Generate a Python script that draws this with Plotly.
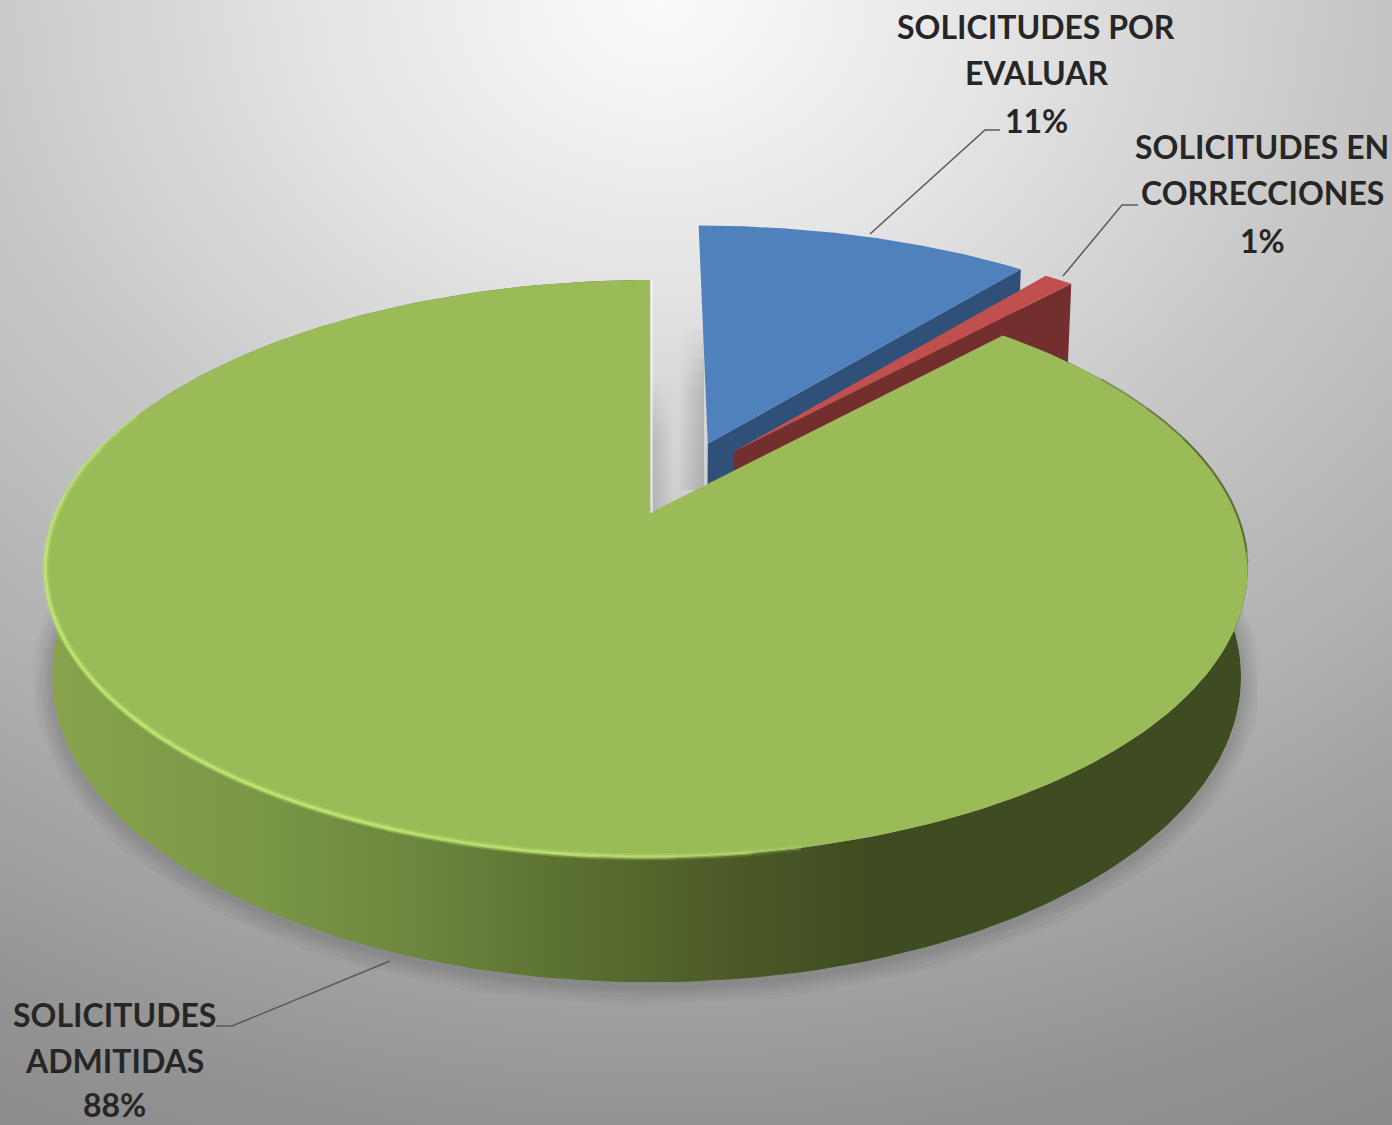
import numpy as np
import plotly.graph_objects as go

# slices in drawing order, clockwise from 12 o'clock
labels = [["SOLICITUDES POR", "EVALUAR"], ["SOLICITUDES EN", "CORRECCIONES"], ["SOLICITUDES", "ADMITIDAS"]]
values = [11, 1, 88]

top_colors = ["#4f81bd", "#c0504d", "#9bbb59"]
side_colors = ["#2f5079", "#722f2d", None]
explode = [(0.103, 0.262), (0.148, 0.23), (0.0, 0.0)]
radius = [1.03, 1.03, 1.0]

label_x = [1036, 1262, 114]
label_y = [[26, 72, 120], [146, 192, 240], [1014, 1060, 1104]]
leaders = [
    ([870, 985, 1000], [234, 130, 130]),
    ([1063, 1122, 1138], [276, 205, 205]),
    ([390, 232, 216], [961, 1026, 1026]),
]

# perspective of the pie plane, fitted to the picture
CX, CY, R, LEAN = 650, 513, 590, 3.5
PERSP, TILT = 0.1924, -179.1
DEPTH, DEPTH_W = 112, 0.011


def project(u, v, low=False):
    w = 1 + PERSP * v + (DEPTH_W if low else 0)
    y = TILT * v + CY + (DEPTH if low else 0)
    return CX + (R * u - LEAN * np.square(u)) / w, y / w


def arc(a0, a1, off=(0, 0), r=1.0, low=False, n=240):
    t = np.radians(np.linspace(a0, a1, n))
    return project(off[0] + r * np.sin(t), off[1] + r * np.cos(t), low)


def poly(xs, ys, **kw):
    return go.Scatter(x=xs, y=ys, mode="lines", fill="toself", line=dict(width=0),
                      hoverinfo="skip", showlegend=False, **kw)


def line(xs, ys, color, width):
    return go.Scatter(x=xs, y=ys, mode="lines", line=dict(color=color, width=width),
                      hoverinfo="skip", showlegend=False)


fig = go.Figure()

# background
fig.add_trace(poly([-930, 2250, 2250, -930, -930], [-1300, -1300, 1300, 1300, -1300],
                   fillgradient=dict(type="radial", colorscale=[
                       [0, "#fbfbfb"], [0.2, "#e6e6e6"], [0.43, "#c8c8c8"],
                       [0.63, "#b2b2b2"], [0.87, "#939393"], [1, "#888888"]])))

edges = np.cumsum([0] + values) * 3.6

# shadows in the gap beside the exploded wedge, stacked so the top fades out
for step in range(5):
    x0, x1 = 678, 704
    y0, y1 = 330 + step * 14, 490
    fig.add_trace(poly([x0, x1, x1, x0, x0], [y0, y0, y1, y1, y0],
                       fillgradient=dict(type="horizontal", start=x0, stop=x1, colorscale=[
                           [0, "rgba(0,0,0,0)"], [1, "rgba(0,0,0,0.035)"]])))
    x0, x1 = 652, 674
    y0, y1 = 385 + step * 12, 512
    fig.add_trace(poly([x0, x1, x1, x0, x0], [y0, y0, y1, y1, y0],
                       fillgradient=dict(type="horizontal", start=x0, stop=x1, colorscale=[
                           [0, "rgba(0,0,0,0.028)"], [1, "rgba(0,0,0,0)"]])))

# exploded slices
for i in [0, 1]:
    a0, a1 = edges[i], edges[i + 1]
    ax, ay = project(*explode[i])
    lx, ly = project(*explode[i], low=True)
    ex, ey = arc(a1, a1, explode[i], radius[i], n=1)
    fx, fy = arc(a1, a1, explode[i], radius[i], low=True, n=1)
    fig.add_trace(poly([ax, ex[0], fx[0], lx, ax], [ay, ey[0], fy[0], ly, ay], fillcolor=side_colors[i]))
    xs, ys = arc(a0, a1, explode[i], radius[i])
    fig.add_trace(poly(np.r_[ax, xs, ax], np.r_[ay, ys, ay], fillcolor=top_colors[i]))

# soft shadow under the big slice
sx, sy = arc(288, 72, low=True)
for width in [40, 32, 25, 18, 12, 7]:
    fig.add_trace(line(sx, sy + 3, "rgba(30,30,30,0.032)", width))

# big slice: outer wall then top face
a0, a1 = edges[2], edges[3]
tx, ty = arc(a0, a1)
bx, by = arc(a0, a1, low=True)
fig.add_trace(poly(np.r_[tx, bx[::-1], tx[0]], np.r_[ty, by[::-1], ty[0]],
                   fillgradient=dict(type="horizontal", start=50, stop=870, colorscale=[
                       [0, "#88a34b"], [0.25, "#7b9747"], [0.45, "#6c863e"], [0.62, "#5c7231"],
                       [0.8, "#4e5d29"], [1, "#3f4b20"]])))
ax, ay = project(0, 0)
fig.add_trace(poly(np.r_[ax, tx, ax], np.r_[ay, ty, ay], fillcolor=top_colors[2]))

# light lip on the front left, dark edge on the right, both fading at the ends
for a_start, a_end in [(292, 168), (284, 172), (274, 178), (264, 184), (250, 200)]:
    fx, fy = arc(a_start, a_end)
    fig.add_trace(line(fx, fy, "rgba(190,230,110,0.1)", 7))
    fig.add_trace(line(fx, fy, "rgba(195,235,120,0.3)", 3))
for a_start, a_end in [(58, 100), (66, 98), (74, 97)]:
    fx, fy = arc(a_start, a_end)
    fig.add_trace(line(fx, fy, "rgba(70,85,35,0.35)", 2))
fig.add_trace(line([ax + 2, tx[-1] + 2], [ay, ty[-1]], "rgba(255,255,255,0.45)", 2))

# leader lines and labels
for xs, ys in leaders:
    fig.add_trace(line(xs, ys, "#595959", 1.5))

for name, value, x, ys in zip(labels, values, label_x, label_y):
    for text, y in zip(name + [f"{value}%"], ys):
        fig.add_annotation(x=x, y=y, text=text, showarrow=False, xanchor="center", yanchor="middle",
                           font=dict(family="Lato", size=32, color="#262626", weight="bold"))

fig.update_xaxes(range=[0, 1392], visible=False)
fig.update_yaxes(range=[1125, 0], visible=False)
fig.update_layout(width=1392, height=1125, margin=dict(l=0, r=0, t=0, b=0),
                  paper_bgcolor="#b0b0b0", plot_bgcolor="#b0b0b0", showlegend=False)

fig.write_html("out.html", config={"displayModeBar": False},
               post_script="document.body.style.margin='0';document.body.style.overflow='hidden';")
